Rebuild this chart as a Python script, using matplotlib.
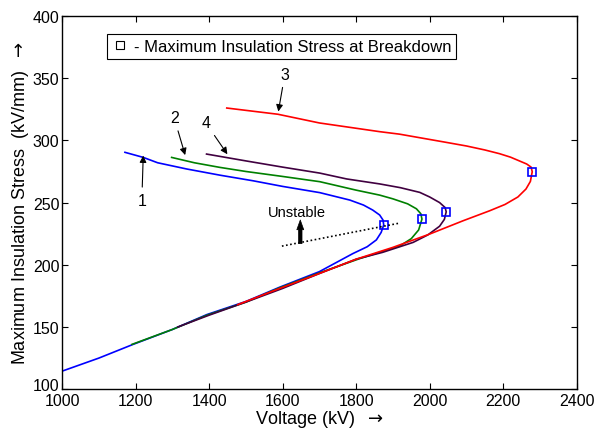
import matplotlib.pyplot as plt
import matplotlib.transforms as mtransforms
from matplotlib.lines import Line2D
import numpy as np

plt.rcParams['font.family'] = ['Liberation Sans', 'DejaVu Sans']

# Curve 1 (blue)
v1 = [1000, 1100, 1193, 1300, 1394, 1500, 1592, 1700, 1791, 1830, 1855, 1868,
      1875, 1873, 1864, 1845, 1820, 1783, 1701, 1600, 1520, 1430, 1339, 1260,
      1221, 1171]
s1 = [114.5, 125, 136, 148, 160, 170.5, 182, 194.5, 209, 214.5, 220, 226,
      232, 236, 240, 244, 248, 252, 258, 263, 267.5, 272, 277, 282,
      286.3, 290.4]

# Curve 2 (green)
v2 = [1190, 1300, 1394, 1500, 1592, 1700, 1810, 1918, 1950, 1970, 1979,
      1976, 1964, 1940, 1900, 1864, 1800, 1701, 1600, 1500, 1429, 1360, 1298]
s2 = [136, 148, 159.5, 170, 181.5, 193.5, 205, 215, 221, 228, 236.7,
      241, 245, 249, 253, 256, 260, 266.8, 271, 275, 278.3, 282, 286.3]

# Curve 3 (red)
v3 = [1478, 1592, 1700, 1800, 1900, 2000, 2091, 2163, 2205, 2240, 2262, 2274,
      2279, 2276, 2264, 2244, 2220, 2190, 2150, 2100, 2045, 1918, 1864, 1700,
      1587, 1448]
s3 = [168, 181, 193, 204.5, 214, 224.7, 235.4, 243.4, 248.5, 254.5, 260.9, 267,
      274.8, 278.5, 281, 283.5, 286.5, 289.3, 292.3, 295.5, 298.4, 305, 307,
      314, 321, 326]

# Curve 4 (purple)
v4 = [1315, 1400, 1500, 1600, 1700, 1800, 1872, 1955, 1995, 2027, 2040, 2045,
      2042, 2027, 2000, 1973, 1920, 1864, 1774, 1701, 1600, 1500, 1393]
s4 = [150, 159.5, 170, 181, 193, 204.5, 210, 218, 224, 231, 236.5, 242.6,
      246, 250, 254.5, 258.2, 262, 265, 269, 273.7, 278.5, 283.5, 289]

# maximum insulation stress at breakdown
peak_v = [1875, 1979, 2279, 2045]
peak_s = [232, 236.7, 274.8, 242.6]

# stability boundary (dotted)
unstable_v = [1598, 1918]
unstable_s = [215, 233.5]

fig = plt.figure(figsize=(5.97, 4.35), dpi=100)
ax = fig.add_axes([0.104, 0.103, 0.862, 0.858])

ax.plot(v1, s1, color='#0000ff', lw=1.2)
ax.plot(v2, s2, color='#008000', lw=1.2)
ax.plot(v4, s4, color='#400040', lw=1.2)
ax.plot(v3, s3, color='#ff0000', lw=1.2)
ax.plot(peak_v, peak_s, ls='none', marker='s', ms=6, mfc='none',
        mec='#0000ff', mew=1.2)
ax.plot(unstable_v, unstable_s, color='black', ls=(0, (1, 1.5)), lw=1.2)

arrow = dict(arrowstyle='-|>', color='black', lw=0.8, mutation_scale=10)
ax.annotate('3', xy=(1587, 321), xytext=(1606, 347), ha='center', va='bottom',
            fontsize=11.5, arrowprops=arrow)
ax.annotate('2', xy=(1337, 286), xytext=(1305, 312), ha='center', va='bottom',
            fontsize=11.5, arrowprops=arrow)
ax.annotate('4', xy=(1454, 287), xytext=(1391, 308), ha='center', va='bottom',
            fontsize=11.5, arrowprops=arrow)
ax.annotate('1', xy=(1221, 290), xytext=(1217, 258), ha='center', va='top',
            fontsize=11.5, arrowprops=arrow)

# "Unstable" with a thick arrow pointing up from the boundary
ax.annotate('', xy=(1648, 236), xytext=(1648, 217),
            arrowprops=dict(arrowstyle='simple,head_width=0.5,head_length=0.7,tail_width=0.25',
                            color='black', lw=0.5, shrinkA=0, shrinkB=0))
ax.text(1638, 237, 'Unstable', ha='center', va='bottom', fontsize=10.5)

ax.set_xlim(1000, 2400)
ax.set_ylim(100, 400)
ax.set_xticks(np.arange(1000, 2401, 200))
ax.set_yticks(np.arange(100, 401, 50))
ax.tick_params(direction='in', top=True, right=True, labelsize=11.5,
               length=4.5, pad=2)
ax.tick_params(axis='x', pad=3)
for sp in ax.spines.values():
    sp.set_linewidth(1.0)

# nudge the "100" label up so it sits just above "1000" like the original
lab100 = ax.get_yticklabels()[0]
lab100.set_transform(lab100.get_transform() +
                     mtransforms.ScaledTranslation(0, 4 / 72, fig.dpi_scale_trans))

ax.set_xlabel('Voltage (kV)  $\\rightarrow$', fontsize=13, labelpad=0)
ax.set_ylabel('Maximum Insulation Stress  (kV/mm)  $\\rightarrow$', fontsize=13,
              labelpad=1)

handle = Line2D([], [], ls='none', marker='s', ms=6, mfc='none', mec='black', mew=0.8)
leg = ax.legend([handle], ['- Maximum Insulation Stress at Breakdown'],
                loc='upper left', bbox_to_anchor=(0.087, 0.952), fontsize=12,
                fancybox=False, edgecolor='black', framealpha=1,
                handlelength=1.0, handletextpad=0.3, borderpad=0.3,
                borderaxespad=0)
leg.get_frame().set_linewidth(0.8)

fig.savefig('out.png', dpi=100)
